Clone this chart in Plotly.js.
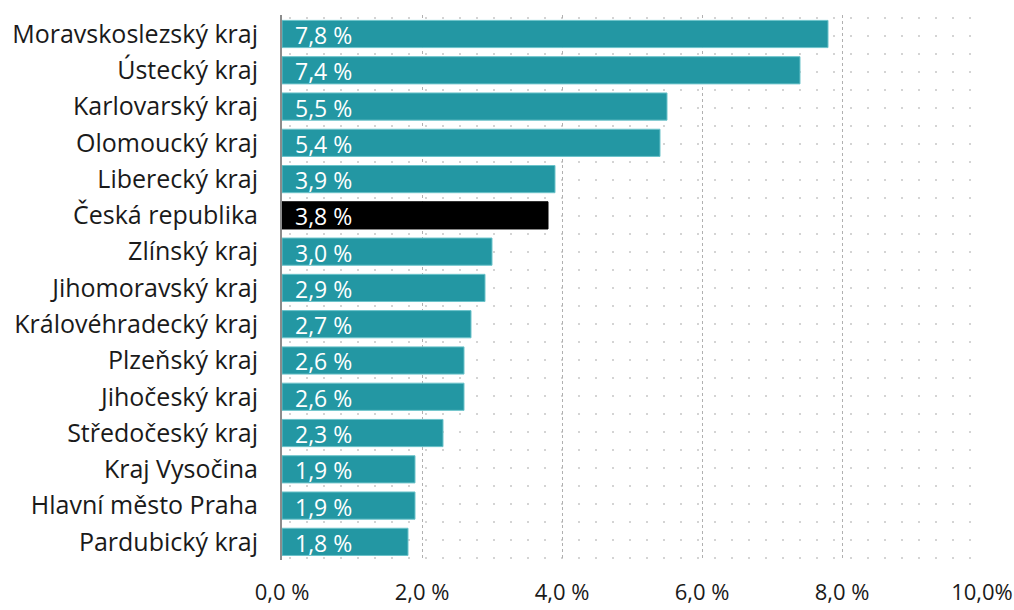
<!DOCTYPE html>
<html><head><meta charset="utf-8">
<script src="https://cdn.plot.ly/plotly-3.0.1.min.js"></script>
<style>
html,body{margin:0;padding:0;background:#fff;}
#wrap{position:relative;width:1014px;height:610px;}
#dots{position:absolute;left:282px;top:15px;width:700px;height:545px;
background-image:url("data:image/svg+xml;utf8,<svg xmlns='http://www.w3.org/2000/svg' width='17' height='18'><rect x='7' y='2' width='2' height='2' fill='%23d4d4d4'/></svg>");
background-size:17px 18px;background-position:0px 0px;background-repeat:repeat;}
#chart{position:absolute;left:0;top:0;width:1014px;height:610px;}
</style></head>
<body><div id="wrap"><div id="dots"></div><div id="chart"></div></div>
<script>
const regions = ["Moravskoslezský kraj","Ústecký kraj","Karlovarský kraj","Olomoucký kraj","Liberecký kraj","Česká republika","Zlínský kraj","Jihomoravský kraj","Královéhradecký kraj","Plzeňský kraj","Jihočeský kraj","Středočeský kraj","Kraj Vysočina","Hlavní město Praha","Pardubický kraj"];
const values = [7.8,7.4,5.5,5.4,3.9,3.8,3.0,2.9,2.7,2.6,2.6,2.3,1.9,1.9,1.8];
const tickVals = [0,2,4,6,8,10];
const tickText = ["0,0 %","2,0 %","4,0 %","6,0 %","8,0 %","10,0%"];

const teal = "#2397a3", black = "#000000";
const colors = regions.map(r => r === "Česká republika" ? black : teal);
const lineColors = regions.map(r => r === "Česká republika" ? black : "#6cc3ca");
const fmt = v => v.toFixed(1).replace(".", ",") + " %";
const FONT = "'Open Sans', 'Noto Sans', sans-serif";

const trace = {
  type: "bar", orientation: "h",
  x: values, y: regions,
  marker: {color: colors, line: {color: lineColors, width: 1}},
  hoverinfo: "skip"
};
const annotations = regions.map((r, i) => ({
  x: 0, y: r, xref: "x", yref: "y", xanchor: "left", yanchor: "middle",
  xshift: 11, yshift: -1, text: fmt(values[i]), showarrow: false,
  font: {family: FONT, size: 23, color: "#ffffff"}
}));

const layout = {
  width: 1014, height: 610,
  margin: {l: 282, r: 32, t: 15, b: 50},
  paper_bgcolor: "rgba(0,0,0,0)", plot_bgcolor: "rgba(0,0,0,0)",
  bargap: 0.25,
  showlegend: false,
  xaxis: {range: [0, 10], tickvals: tickVals, ticktext: tickText,
    showgrid: true, gridcolor: "#b0b0b0", griddash: "dot", gridwidth: 1,
    zeroline: false, ticks: "outside", ticklen: 13, tickcolor: "rgba(0,0,0,0)",
    ticklabeloverflow: "allow",
    tickfont: {family: FONT, size: 22, color: "#1a1a1a"}, fixedrange: true},
  yaxis: {categoryorder: "array", categoryarray: regions, autorange: "reversed",
    showline: true, linecolor: "#8c8c8c", linewidth: 2,
    ticks: "outside", ticklen: 17, tickcolor: "rgba(0,0,0,0)",
    tickfont: {family: FONT, size: 25, color: "#1a1a1a"}, fixedrange: true},
  annotations: annotations
};
Plotly.newPlot("chart", [trace], layout, {displayModeBar: false, staticPlot: true});
</script></body></html>
